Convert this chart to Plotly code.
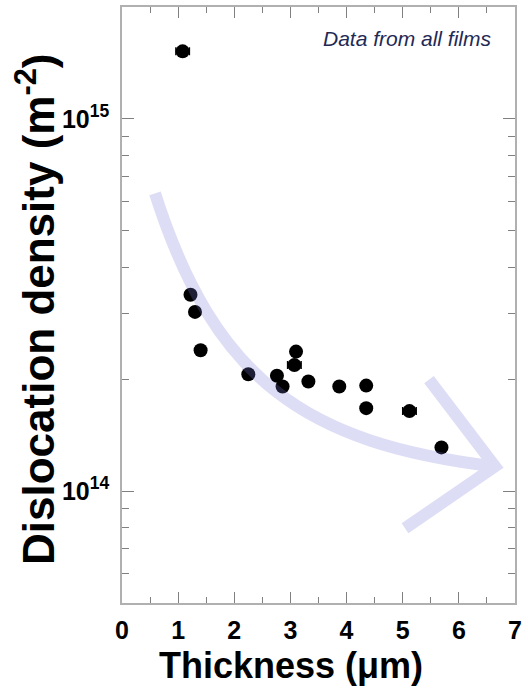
import plotly.graph_objects as go

# ---- data ----
thickness_um = [1.08, 1.22, 1.30, 1.40, 2.25, 2.76, 2.86, 3.10, 3.07, 3.32, 3.87, 4.35, 4.35, 5.12, 5.69]
dislocation_density = [1.52e15, 3.37e14, 3.03e14, 2.39e14, 2.06e14, 2.04e14, 1.91e14, 2.37e14,
                       2.18e14, 1.97e14, 1.91e14, 1.92e14, 1.67e14, 1.64e14, 1.31e14]
thickness_err = [0.12, 0, 0, 0, 0, 0, 0, 0, 0.12, 0, 0, 0, 0, 0.12, 0]

x_tick_vals = [0, 1, 2, 3, 4, 5, 6, 7]
x_tick_text = ["<b>0</b>", "<b>1</b>", "<b>2</b>", "<b>3</b>", "<b>4</b>", "<b>5</b>", "<b>6</b>", "<b>7</b>"]
y_tick_vals = [1e14, 1e15]
y_tick_text = ["<b>10<sup>14</sup></b>", "<b>10<sup>15</sup></b>"]
y_minor_vals = [5e13, 6e13, 7e13, 8e13, 9e13, 2e14, 3e14, 4e14, 5e14, 6e14, 7e14, 8e14, 9e14, 2e15]

x_title = "Thickness (μm)"
y_title = "Dislocation density (m<sup>-2</sup>)"
note_text = "Data from all films"

# ---- layout geometry (pixels) ----
W, H = 528, 691
L, R, T, B = 122, 13, 5, 88
PW, PH = W - L - R, H - T - B

def px(xp, yp):
    return (xp - L) / PW, (H - B - yp) / PH

FONT = "Liberation Sans, Arial, sans-serif"

fig = go.Figure()
fig.add_trace(go.Scatter(
    x=thickness_um, y=dislocation_density, mode="markers",
    marker=dict(color="black", size=14, line=dict(width=0)),
    error_x=dict(type="data", array=thickness_err, color="black", thickness=1.5, width=4, visible=True),
    showlegend=False, hoverinfo="x+y",
))

# decorative curved arrow (paper coordinates)
p0, p1, p2, p3 = px(155, 192), px(215, 380), px(305, 443), px(495, 466)
h0, h1 = px(429, 379), px(405, 528)
path = (f"M {p0[0]:.4f},{p0[1]:.4f} C {p1[0]:.4f},{p1[1]:.4f} {p2[0]:.4f},{p2[1]:.4f} {p3[0]:.4f},{p3[1]:.4f} "
        f"M {h0[0]:.4f},{h0[1]:.4f} L {p3[0]:.4f},{p3[1]:.4f} L {h1[0]:.4f},{h1[1]:.4f}")
fig.add_shape(type="path", path=path, xref="paper", yref="paper",
              line=dict(color="rgba(120,120,220,0.25)", width=12),
              fillcolor="rgba(0,0,0,0)", layer="above")

fig.update_layout(
    width=W, height=H, margin=dict(l=L, r=R, t=T, b=B),
    paper_bgcolor="white", plot_bgcolor="white",
    font=dict(family=FONT, size=24, color="black"),
    xaxis=dict(
        range=[0, 7], tickmode="array", tickvals=x_tick_vals, ticktext=x_tick_text,
        ticks="inside", ticklen=11, tickcolor="#808080", tickwidth=1,
        tickfont=dict(family=FONT, size=25, color="black"),
        minor=dict(dtick=0.5, ticks="inside", ticklen=6, tickcolor="#808080", showgrid=False),
        ticklabelstandoff=4,
        showline=True, linecolor="#b0b0b0", linewidth=1.5, mirror="ticks",
        showgrid=False, zeroline=False,
    ),
    yaxis=dict(
        type="log", range=[13.69897, 15.30103], tickmode="array",
        tickvals=y_tick_vals, ticktext=y_tick_text,
        ticks="inside", ticklen=12, tickcolor="#808080", tickwidth=1,
        tickfont=dict(family=FONT, size=25, color="black"),
        minor=dict(tickmode="array", tickvals=y_minor_vals, ticks="inside", ticklen=7,
                   tickcolor="#808080", showgrid=False),
        ticklabelstandoff=6,
        showline=True, linecolor="#b0b0b0", linewidth=1.5, mirror="ticks",
        showgrid=False, zeroline=False,
    ),
)

ax, ay = px(291, 666)
fig.add_annotation(text=f"<b>{x_title}</b>", xref="paper", yref="paper", x=ax, y=ay,
                   xanchor="center", yanchor="middle", showarrow=False,
                   font=dict(family=FONT, size=36, color="black"))
tx, ty = px(36, 309)
fig.add_annotation(text=f"<b>{y_title}</b>", xref="paper", yref="paper", x=tx, y=ty, textangle=-90,
                   xanchor="center", yanchor="middle", showarrow=False,
                   font=dict(family=FONT, size=44, color="black"))
nx, ny = px(494, 37)
fig.add_annotation(text=f"<i>{note_text}</i>", xref="paper", yref="paper", x=nx, y=ny,
                   xanchor="right", yanchor="middle", showarrow=False,
                   font=dict(family=FONT, size=21, color="#1f2a55"))

fig.write_html("out.html")
